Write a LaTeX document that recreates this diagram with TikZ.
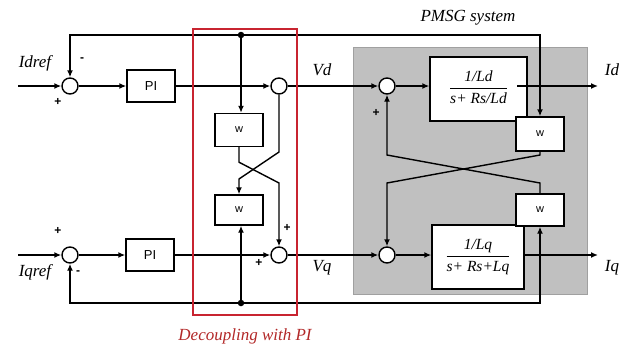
\documentclass[tikz,border=0pt]{standalone}
\usepackage{fontspec}
\setmainfont{Liberation Serif}
\setsansfont{Liberation Sans}
\usetikzlibrary{arrows.meta,backgrounds}
\definecolor{redbox}{RGB}{200,36,48}
\definecolor{redtext}{RGB}{178,40,40}
\definecolor{pmsggray}{RGB}{192,192,192}
\definecolor{pmsgedge}{RGB}{160,160,160}
\begin{document}
\begin{tikzpicture}[x=1pt,y=-1pt,
  line/.style={line width=1.4pt},
  arr/.style={line,-{Latex[length=7pt,width=6pt]}},
  darr/.style={line,{Latex[length=7pt,width=6pt]}-{Latex[length=7pt,width=6pt]}},
  sumj/.style={circle,draw,line width=1.4pt,fill=white,minimum size=16pt,inner sep=0pt},
  blk/.style={rectangle,draw,line width=1.4pt,fill=white,inner sep=0pt},
  piblk/.style={blk,minimum width=48pt,minimum height=32pt,font=\sffamily\fontsize{13}{14}\selectfont},
  wblk/.style={blk,minimum width=48pt,minimum height=33pt,font=\sffamily\fontsize{11}{12}\selectfont},
  tfblk/.style={blk,minimum height=64pt,font=\itshape\fontsize{15.5}{17}\selectfont},
  sig/.style={font=\itshape\fontsize{17}{19}\selectfont,inner sep=0pt},
  sgn/.style={font=\sffamily\bfseries\fontsize{12}{13}\selectfont,inner sep=0pt},
  junc/.style={circle,fill,inner sep=0pt,minimum size=6.5pt}]
\useasboundingbox (0,0) rectangle (621,346);

% PMSG system background
\fill[pmsggray,draw=pmsgedge,line width=0.8pt] (353,47) rectangle (587,294);

% nodes
\node[sumj] (sd) at (70,86) {};
\node[sumj] (sq) at (70,255) {};
\node[piblk] (pid) at (151,86) {PI};
\node[piblk] (piq) at (150,255) {PI};
\node[wblk] (wd1) at (239,130) {w};
\node[wblk,minimum height=30pt] (wq1) at (239,210) {w};
\node[sumj] (vd) at (279,86) {};
\node[sumj] (vq) at (279,255) {};
\node[sumj] (pd) at (387,86) {};
\node[sumj] (pq) at (387,255) {};
\node[tfblk,minimum width=97pt] (tfd) at (478.5,89)
  {\begin{tabular}{@{}c@{}}1/Ld\\[1pt]\hline\rule{0pt}{15pt}s+ Rs/Ld\end{tabular}};
\node[tfblk,minimum width=92pt] (tfq) at (478,257)
  {\begin{tabular}{@{}c@{}}1/Lq\\[1pt]\hline\rule{0pt}{15pt}s+ Rs+Lq\end{tabular}};
\node[wblk,minimum height=34pt] (wd2) at (540,134) {w};
\node[wblk,minimum height=32pt] (wq2) at (540,210) {w};
\node[junc] (dt) at (241,35) {};
\node[junc] (db) at (241,303) {};

\coordinate (ind) at (18,86);
\coordinate (inq) at (18,255);
\coordinate (tfdo) at (517,86);
\coordinate (outd) at (598,86);
\coordinate (outq) at (598,255);
\coordinate (tl) at (70,35);
\coordinate (tr) at (540,35);
\coordinate (bl) at (70,303);
\coordinate (br) at (540,303);

% forward paths
\draw[arr] (ind) -- (sd);
\draw[arr] (sd) -- (pid);
\draw[arr] (pid) -- (vd);
\draw[arr] (vd) -- (pd);
\draw[arr] (pd.east) -- (pd.east -| tfd.west);
\draw[arr] (tfdo) -- (outd);
\draw[arr] (inq) -- (sq);
\draw[arr] (sq) -- (piq);
\draw[arr] (piq) -- (vq);
\draw[arr] (vq) -- (pq);
\draw[arr] (pq.east) -- (pq.east -| tfq.west);
\draw[arr] (tfq.east |- pq) -- (outq);

% feedback lines
\draw[darr] (sd.north) -- (tl) -- (tr) -- (wd2.north);
\draw[arr] (dt) -- (dt |- wd1.north);
\draw[darr] (sq.south) -- (bl) -- (br) -- (wq2.south);
\draw[arr] (db) -- (db |- wq1.south);

% decoupling cross
\draw[arr] (wd1.south) -- ++(0,15) -- (279,183) -- (vq.north);
\draw[arr] (vd.south) -- (279,152) -- (239,179) -- (wq1.north);

% PMSG cross
\draw[arr] (wd2.south) -- (540,155) -- (387,183) -- (pq.north);
\draw[arr] (wq2.north) -- (540,183) -- (387,155) -- (pd.south);

% labels
\node[sig] (lidref) at (35,63) {Idref};
\node[sig] (liqref) at (35,272) {Iqref};
\node[sig] (lvd) at (322,70) {Vd};
\node[sig] (lvq) at (322,268) {Vq};
\node[sig] (lid) at (612,70) {Id};
\node[sig] (liq) at (612,268) {Iq};
\node[sig] (lpmsg) at (468,18) {PMSG system};
\node[sig,text=redtext] (ldec) at (245,336) {Decoupling with PI};

\node[sgn] (s1) at (82,60) {-};
\node[sgn] (s2) at (58,102) {+};
\node[sgn] (s3) at (58,231) {+};
\node[sgn] (s4) at (78,273) {-};
\node[sgn] (s5) at (287,228) {+};
\node[sgn] (s6) at (259,263) {+};
\node[sgn] (s7) at (376,113) {+};

% decoupling frame
\draw[redbox,line width=2.4pt] (193,29) rectangle (297,315);
\end{tikzpicture}
\end{document}
